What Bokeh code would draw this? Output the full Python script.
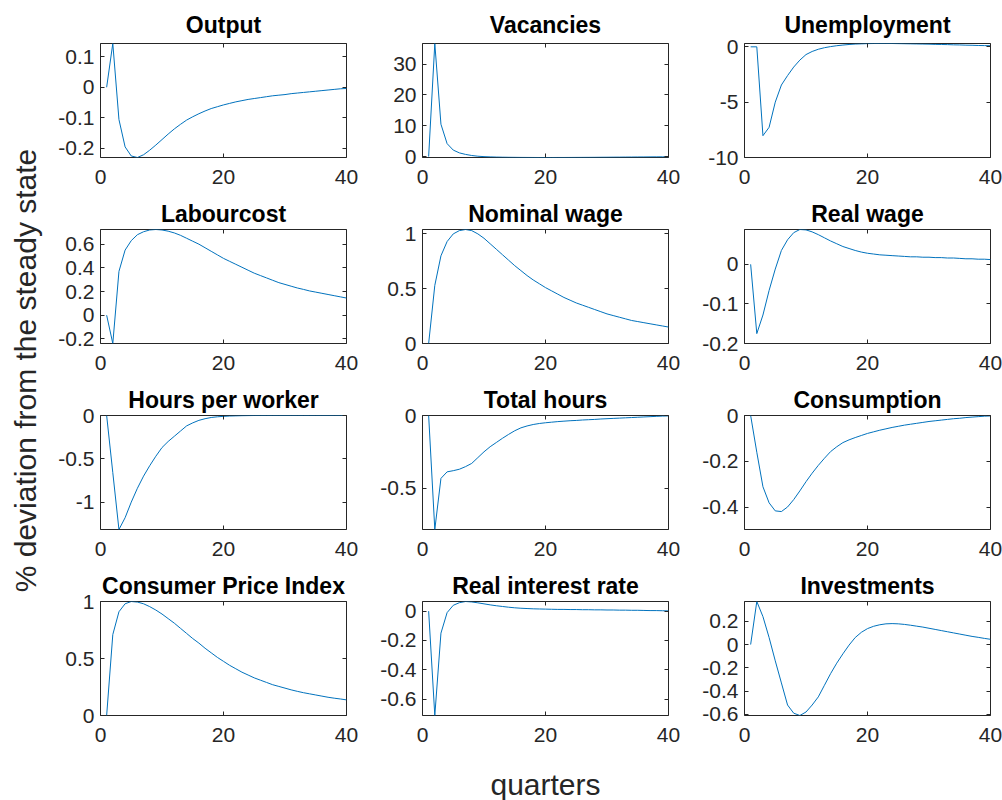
import math
from bokeh.plotting import figure
from bokeh.layouts import row, column
from bokeh.models import Range1d, FixedTicker, LinearAxis, CustomJSTickFormatter, Label
from bokeh.embed import file_html
from bokeh.resources import INLINE

quarters = list(range(1, 41))

output = [0, 0.144, -0.106, -0.196, -0.226, -0.231, -0.222, -0.207, -0.19, -0.172,
          -0.154, -0.137, -0.122, -0.108, -0.097, -0.087, -0.078, -0.070, -0.064, -0.058,
          -0.053, -0.048, -0.044, -0.040, -0.037, -0.034, -0.031, -0.028, -0.026, -0.024,
          -0.021, -0.019, -0.017, -0.015, -0.013, -0.011, -0.009, -0.007, -0.005, -0.004]
vacancies = [0, 36.7, 10.5, 4.2, 2.1, 1.2, 0.7, 0.35, 0.12, -0.02,
             -0.1, -0.16, -0.2, -0.23, -0.25, -0.27, -0.28, -0.29, -0.3, -0.3,
             -0.3, -0.29, -0.29, -0.28, -0.27, -0.26, -0.25, -0.24, -0.22, -0.21,
             -0.19, -0.18, -0.16, -0.15, -0.13, -0.12, -0.1, -0.09, -0.08, -0.07]
unemployment = [0, 0, -8.03, -7.27, -5.0, -3.45, -2.6, -1.83, -1.2, -0.7,
                -0.42, -0.22, -0.08, 0.02, 0.1, 0.16, 0.21, 0.25, 0.27, 0.29,
                0.3, 0.3, 0.3, 0.3, 0.29, 0.28, 0.27, 0.26, 0.25, 0.24,
                0.22, 0.21, 0.2, 0.18, 0.17, 0.15, 0.14, 0.12, 0.11, 0.1]
labourcost = [0, -0.239, 0.37, 0.55, 0.63, 0.68, 0.705, 0.72, 0.724, 0.72,
              0.71, 0.695, 0.675, 0.65, 0.625, 0.60, 0.57, 0.54, 0.51, 0.48,
              0.455, 0.43, 0.405, 0.38, 0.355, 0.335, 0.315, 0.295, 0.275, 0.26,
              0.245, 0.23, 0.218, 0.205, 0.195, 0.185, 0.175, 0.165, 0.155, 0.145]
nominal_wage = [0, 0.53, 0.8, 0.93, 1.0, 1.03, 1.04, 1.03, 1.0, 0.96,
                0.91, 0.86, 0.81, 0.76, 0.71, 0.665, 0.62, 0.58, 0.545, 0.51,
                0.48, 0.45, 0.42, 0.395, 0.37, 0.35, 0.33, 0.31, 0.29, 0.27,
                0.255, 0.24, 0.225, 0.21, 0.2, 0.19, 0.18, 0.17, 0.16, 0.15]
real_wage = [0, -0.175, -0.128, -0.066, -0.012, 0.035, 0.062, 0.08, 0.088, 0.087,
             0.082, 0.075, 0.067, 0.059, 0.052, 0.045, 0.04, 0.035, 0.031, 0.028,
             0.026, 0.024, 0.023, 0.022, 0.021, 0.02, 0.019, 0.019, 0.018, 0.018,
             0.017, 0.017, 0.016, 0.016, 0.015, 0.014, 0.014, 0.013, 0.013, 0.012]
hours_per_worker = [0, -0.66, -1.316, -1.18, -1.0, -0.84, -0.7, -0.58, -0.47, -0.37,
                    -0.3, -0.24, -0.18, -0.12, -0.085, -0.056, -0.037, -0.023, -0.015, -0.01,
                    -0.006, -0.004, -0.002, -0.001, 0, 0, 0, 0, 0, 0,
                    0, 0, 0, 0, 0, 0, 0, 0, 0, 0]
total_hours = [0, -0.785, -0.433, -0.388, -0.38, -0.37, -0.352, -0.33, -0.29, -0.25,
               -0.215, -0.186, -0.157, -0.13, -0.105, -0.085, -0.072, -0.062, -0.055, -0.05,
               -0.046, -0.042, -0.039, -0.036, -0.034, -0.031, -0.029, -0.027, -0.024, -0.022,
               -0.02, -0.018, -0.016, -0.014, -0.012, -0.01, -0.008, -0.006, -0.004, -0.003]
consumption = [0, -0.16, -0.31, -0.38, -0.415, -0.418, -0.398, -0.366, -0.328, -0.288,
               -0.251, -0.217, -0.186, -0.157, -0.136, -0.118, -0.106, -0.096, -0.087, -0.078,
               -0.071, -0.064, -0.058, -0.052, -0.047, -0.042, -0.038, -0.034, -0.03, -0.026,
               -0.023, -0.02, -0.017, -0.014, -0.012, -0.009, -0.007, -0.005, -0.003, -0.002]
cpi = [0, 0.71, 0.91, 0.98, 1.0, 0.995, 0.98, 0.955, 0.925, 0.89,
       0.85, 0.81, 0.765, 0.72, 0.675, 0.635, 0.59, 0.55, 0.51, 0.475,
       0.44, 0.41, 0.38, 0.355, 0.33, 0.31, 0.29, 0.27, 0.255, 0.24,
       0.225, 0.212, 0.2, 0.19, 0.18, 0.17, 0.16, 0.152, 0.145, 0.137]
real_interest = [0, -0.712, -0.15, -0.01, 0.04, 0.058, 0.066, 0.063, 0.057, 0.05,
                 0.043, 0.037, 0.032, 0.027, 0.023, 0.02, 0.018, 0.016, 0.015, 0.014,
                 0.013, 0.012, 0.012, 0.011, 0.011, 0.01, 0.01, 0.009, 0.009, 0.008,
                 0.008, 0.007, 0.007, 0.006, 0.006, 0.005, 0.004, 0.004, 0.003, 0.002]
investments = [0, 0.37, 0.24, 0.06, -0.14, -0.33, -0.52, -0.59, -0.61, -0.58,
               -0.52, -0.45, -0.35, -0.25, -0.16, -0.08, -0.005, 0.06, 0.105, 0.137,
               0.157, 0.17, 0.178, 0.18, 0.178, 0.173, 0.166, 0.158, 0.15, 0.14,
               0.13, 0.12, 0.11, 0.1, 0.09, 0.08, 0.07, 0.062, 0.053, 0.045]

titles = ["Output", "Vacancies", "Unemployment",
          "Labourcost", "Nominal wage", "Real wage",
          "Hours per worker", "Total hours", "Consumption",
          "Consumer Price Index", "Real interest rate", "Investments"]
series = [output, vacancies, unemployment, labourcost, nominal_wage, real_wage,
          hours_per_worker, total_hours, consumption, cpi, real_interest, investments]
y_limits = [(-0.231, 0.144), (-0.3, 36.7), (-10, 0.3),
            (-0.239, 0.724), (0, 1.04), (-0.2, 0.088),
            (-1.316, 0), (-0.785, 0), (-0.496, 0),
            (0, 1.0), (-0.712, 0.066), (-0.61, 0.37)]
y_ticks = [[-0.2, -0.1, 0, 0.1], [0, 10, 20, 30], [-10, -5, 0],
           [-0.2, 0, 0.2, 0.4, 0.6], [0, 0.5, 1], [-0.2, -0.1, 0],
           [-1, -0.5, 0], [-0.5, 0], [-0.4, -0.2, 0],
           [0, 0.5, 1], [-0.6, -0.4, -0.2, 0], [-0.6, -0.4, -0.2, 0, 0.2]]
x_ticks = [0, 20, 40]

FONT = "Liberation Sans"
TICK_FONT = "Liberation Sans"
AX = "#262626"
LINE = "#0072BD"
fmt_code = "return String(Math.round(tick*1000)/1000);"


def style_axis(ax, show_labels):
    ax.axis_line_color = None
    ax.major_tick_in = 4
    ax.major_tick_out = 0
    ax.minor_tick_line_color = None
    ax.major_tick_line_color = AX
    ax.major_label_text_font = TICK_FONT
    if show_labels:
        ax.major_label_text_color = AX
        ax.major_label_text_font_size = "21px"
    else:
        ax.major_label_text_color = None
        ax.major_label_text_font_size = "1px"
        ax.major_label_standoff = 0


def panel(i):
    col = i % 3
    r = i // 3
    w = 310 if col == 2 else 322
    rb = 12 if col == 2 else 24
    h = 194 if r == 0 else 186
    tb = 43 if r == 0 else 35
    lo, hi = y_limits[i]
    p = figure(width=w, height=h, x_range=Range1d(0, 40), y_range=Range1d(lo, hi),
               toolbar_location=None, output_backend="svg",
               min_border_left=52, min_border_right=rb, min_border_top=tb, min_border_bottom=37,
               title=titles[i])
    p.title.align = "center"
    p.title.text_font = FONT
    p.title.text_font_size = "23px"
    p.title.text_font_style = "bold"
    p.title.text_color = "black"
    p.title.standoff = 11 if r == 0 else 6
    p.grid.grid_line_color = None
    p.outline_line_color = AX
    p.outline_line_width = 1
    p.xaxis.ticker = FixedTicker(ticks=x_ticks)
    p.yaxis.ticker = FixedTicker(ticks=y_ticks[i])
    p.yaxis.formatter = CustomJSTickFormatter(code=fmt_code)
    p.xaxis.formatter = CustomJSTickFormatter(code=fmt_code)
    style_axis(p.xaxis[0], True)
    style_axis(p.yaxis[0], True)
    p.xaxis.major_label_standoff = 12
    p.yaxis.major_label_standoff = 6
    ra = LinearAxis(ticker=FixedTicker(ticks=y_ticks[i]))
    style_axis(ra, False)
    p.add_layout(ra, "right")
    ta = LinearAxis(ticker=FixedTicker(ticks=x_ticks))
    style_axis(ta, False)
    p.add_layout(ta, "above")
    p.line(quarters, series[i], line_color=LINE, line_width=1.0)
    return p


figs = [panel(i) for i in range(12)]
rows = [row(*figs[r * 3:r * 3 + 3]) for r in range(4)]

xlab = figure(width=954, height=48, x_range=Range1d(0, 954), y_range=Range1d(0, 48),
              toolbar_location=None, output_backend="svg", min_border=0,
              x_axis_location=None, y_axis_location=None)
xlab.grid.grid_line_color = None
xlab.outline_line_color = None
xlab.add_layout(Label(x=497, y=16, text="quarters", text_align="center",
                      text_baseline="alphabetic", text_font=FONT,
                      text_font_size="30px", text_color=AX))

ylab = figure(width=48, height=800, x_range=Range1d(0, 48), y_range=Range1d(0, 800),
              toolbar_location=None, output_backend="svg", min_border=0,
              x_axis_location=None, y_axis_location=None)
ylab.grid.grid_line_color = None
ylab.outline_line_color = None
ylab.add_layout(Label(x=25, y=430, text="% deviation from the steady state",
                      angle=math.pi / 2, text_align="center", text_baseline="middle",
                      text_font=FONT, text_font_size="30px", text_color=AX))

layout = row(ylab, column(*rows, xlab))

open("out.html", "w").write(file_html(layout, INLINE))
